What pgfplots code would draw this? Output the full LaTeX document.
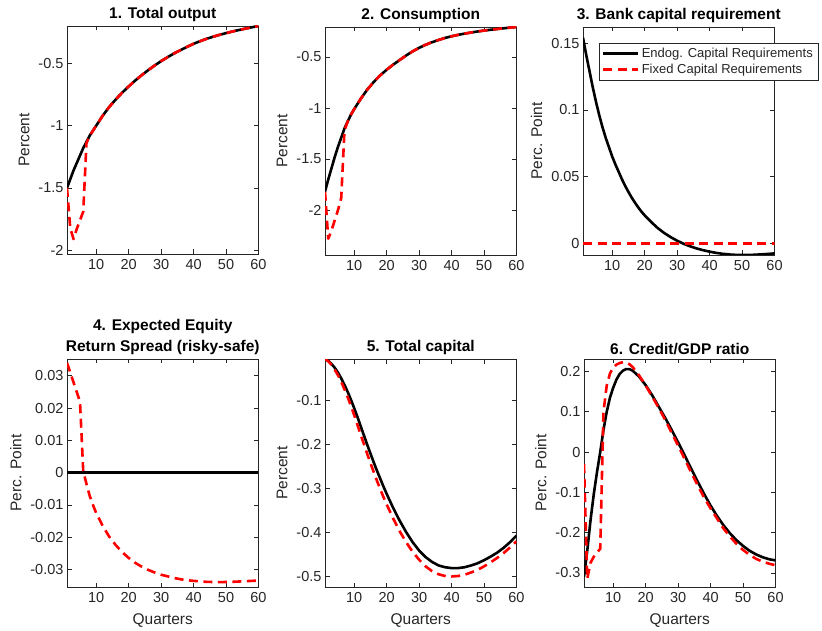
\documentclass[border=0pt]{standalone}
\usepackage{pgfplots}
\pgfplotsset{compat=1.18}
\usepackage{fontspec}
\setmainfont{Liberation Sans}
\definecolor{axc}{rgb}{0.15,0.15,0.15}
\pgfplotsset{
  mystyle/.style={
    scale only axis, width=191.5pt, height=228pt, anchor=south west,
    xmin=1, xmax=60, xtick={10,20,30,40,50,60},
    tick pos=both, xticklabel pos=lower, yticklabel pos=left,
    axis line style={axc, line width=0.6pt},
    every tick/.style={axc, line width=0.6pt},
    tick align=inside, major tick length=4.5pt,
    ticklabel style={font=\fontsize{14.5}{16}\selectfont, text=axc},
    xticklabel style={yshift=-2pt},
    /pgf/number format/assume math mode=true,
    scaled y ticks=false,
    title style={font=\bfseries\fontsize{15.5}{21}\selectfont, align=center, yshift=-5pt},
    ylabel style={font=\fontsize{15.5}{17}\selectfont, text=axc, yshift=2pt},
    xlabel style={font=\fontsize{15.5}{17}\selectfont, text=axc, yshift=-4pt},
    every axis plot/.append style={line width=2.6pt, line join=round},
  },
  blk/.style={black, solid},
  rdd/.style={red, dash pattern=on 9pt off 5.5pt},
}
\begin{document}
\begin{tikzpicture}
\useasboundingbox (0,0) rectangle (822pt,630pt);
% Panel 1
\begin{axis}[mystyle, at={(67pt,376pt)}, title={1. Total output}, ylabel={Percent},
  ymin=-2.03, ymax=-0.2, ytick={-2,-1.5,-1,-0.5}, yticklabels={-2,-1.5,-1,-0.5}]
\addplot[blk] coordinates {(1,-1.5)(2,-1.43)(3,-1.36)(4,-1.3)(5,-1.24)(6,-1.18)(7,-1.13)(8,-1.08)(9,-1.04)(10,-1.0)(12,-0.92)(14,-0.85)(16,-0.79)(18,-0.735)(20,-0.685)(22,-0.638)(24,-0.595)(26,-0.555)(28,-0.517)(30,-0.482)(32,-0.45)(34,-0.42)(36,-0.393)(38,-0.367)(40,-0.343)(42,-0.322)(44,-0.303)(46,-0.286)(48,-0.271)(50,-0.257)(52,-0.244)(54,-0.232)(56,-0.221)(58,-0.21)(60,-0.2)};
\addplot[rdd] coordinates {(1,-1.5)(2,-1.82)(3,-1.91)(4,-1.83)(5,-1.76)(6,-1.69)(7,-1.14)(8,-1.08)(9,-1.04)(10,-1.0)(12,-0.92)(14,-0.85)(16,-0.79)(18,-0.735)(20,-0.685)(22,-0.638)(24,-0.595)(26,-0.555)(28,-0.517)(30,-0.482)(32,-0.45)(34,-0.42)(36,-0.393)(38,-0.367)(40,-0.343)(42,-0.322)(44,-0.303)(46,-0.286)(48,-0.271)(50,-0.257)(52,-0.244)(54,-0.232)(56,-0.221)(58,-0.21)(60,-0.2)};
\end{axis}
% Panel 2
\begin{axis}[mystyle, at={(325pt,375pt)}, title={2. Consumption}, ylabel={Percent},
  ymin=-2.44, ymax=-0.206, ytick={-2,-1.5,-1,-0.5}, yticklabels={-2,-1.5,-1,-0.5}]
\addplot[blk] coordinates {(1,-1.82)(2,-1.70)(3,-1.59)(4,-1.48)(5,-1.38)(6,-1.29)(7,-1.2)(8,-1.13)(9,-1.065)(10,-1.01)(12,-0.91)(14,-0.82)(16,-0.745)(18,-0.68)(20,-0.625)(22,-0.575)(24,-0.53)(26,-0.485)(28,-0.445)(30,-0.41)(32,-0.38)(34,-0.355)(36,-0.333)(38,-0.313)(40,-0.297)(42,-0.283)(44,-0.271)(46,-0.26)(48,-0.25)(50,-0.241)(52,-0.233)(54,-0.226)(56,-0.219)(58,-0.212)(60,-0.206)};
\addplot[rdd] coordinates {(1,-1.82)(2,-2.28)(3,-2.2)(4,-2.1)(5,-2.0)(6,-1.88)(7,-1.22)(8,-1.13)(9,-1.065)(10,-1.01)(12,-0.91)(14,-0.82)(16,-0.745)(18,-0.68)(20,-0.625)(22,-0.575)(24,-0.53)(26,-0.485)(28,-0.445)(30,-0.41)(32,-0.38)(34,-0.355)(36,-0.333)(38,-0.313)(40,-0.297)(42,-0.283)(44,-0.271)(46,-0.26)(48,-0.25)(50,-0.241)(52,-0.233)(54,-0.226)(56,-0.219)(58,-0.212)(60,-0.206)};
\end{axis}
% Panel 3
\begin{axis}[mystyle, at={(583pt,375pt)}, title={3. Bank capital requirement}, ylabel={Perc. Point},
  ymin=-0.0087, ymax=0.162, ytick={0,0.05,0.1,0.15}, yticklabels={0,0.05,0.1,0.15},
  legend style={at={(0.083,0.93)}, anchor=north west, draw=axc, line width=0.6pt, fill=white,
    font=\fontsize{13}{15}\selectfont, text=axc, inner xsep=3pt, inner ysep=3pt, row sep=1pt},
  legend cell align=left,
  legend image code/.code={\draw[#1] (0pt,0pt) -- (35pt,0pt);}]
\addplot[blk] coordinates {(1,0.154)(2,0.141)(3,0.129)(4,0.117)(5,0.106)(6,0.096)(7,0.087)(8,0.079)(9,0.072)(10,0.065)(11,0.059)(12,0.0535)(13,0.048)(14,0.043)(15,0.0385)(16,0.0343)(17,0.0305)(18,0.027)(19,0.0238)(20,0.021)(22,0.016)(24,0.0115)(26,0.0078)(28,0.0047)(30,0.002)(32,-0.0003)(34,-0.0022)(36,-0.0038)(38,-0.0051)(40,-0.0062)(42,-0.0071)(44,-0.0078)(46,-0.0083)(48,-0.0086)(50,-0.0087)(52,-0.0087)(54,-0.0085)(56,-0.0082)(58,-0.0079)(60,-0.0075)};
\addplot[rdd] coordinates {(1,0)(60,0)};
\legend{Endog. Capital Requirements, Fixed Capital Requirements}
\end{axis}
% Panel 4
\begin{axis}[mystyle, at={(67pt,43pt)}, title={4. Expected Equity\\Return Spread (risky-safe)}, ylabel={Perc. Point}, xlabel={Quarters},
  ymin=-0.0354, ymax=0.0352, ytick={-0.03,-0.02,-0.01,0,0.01,0.02,0.03}, yticklabels={-0.03,-0.02,-0.01,0,0.01,0.02,0.03}]
\addplot[blk] coordinates {(1,0)(60,0)};
\addplot[rdd] coordinates {(1,0.034)(2,0.031)(3,0.028)(4,0.025)(5,0.022)(6,0.0005)(7,-0.0035)(8,-0.0072)(9,-0.0100)(10,-0.0125)(12,-0.0165)(14,-0.0198)(16,-0.0224)(18,-0.0246)(20,-0.0264)(22,-0.0279)(24,-0.0291)(26,-0.0301)(28,-0.0309)(30,-0.0316)(32,-0.0321)(34,-0.0326)(36,-0.033)(38,-0.0333)(40,-0.0335)(44,-0.0338)(48,-0.0339)(52,-0.0338)(56,-0.0336)(60,-0.0334)};
\end{axis}
% Panel 5
\begin{axis}[mystyle, at={(325pt,43pt)}, title={5. Total capital}, ylabel={Percent}, xlabel={Quarters},
  ymin=-0.524, ymax=-0.005, ytick={-0.5,-0.4,-0.3,-0.2,-0.1}, yticklabels={-0.5,-0.4,-0.3,-0.2,-0.1}]
\addplot[blk] coordinates {(1,-0.005)(2,-0.009)(3,-0.016)(4,-0.025)(5,-0.036)(6,-0.049)(7,-0.064)(8,-0.080)(9,-0.098)(10,-0.117)(11,-0.137)(12,-0.158)(13,-0.179)(14,-0.200)(15,-0.220)(16,-0.240)(17,-0.259)(18,-0.277)(19,-0.295)(20,-0.312)(22,-0.344)(24,-0.373)(26,-0.399)(28,-0.422)(30,-0.441)(32,-0.456)(34,-0.467)(36,-0.475)(38,-0.479)(40,-0.481)(42,-0.481)(44,-0.479)(46,-0.475)(48,-0.47)(50,-0.463)(52,-0.455)(54,-0.446)(56,-0.435)(58,-0.422)(60,-0.407)};
\addplot[rdd] coordinates {(1,-0.005)(2,-0.010)(3,-0.018)(4,-0.029)(5,-0.042)(6,-0.057)(7,-0.074)(8,-0.092)(9,-0.112)(10,-0.133)(11,-0.155)(12,-0.177)(13,-0.199)(14,-0.221)(15,-0.242)(16,-0.262)(17,-0.282)(18,-0.301)(19,-0.319)(20,-0.336)(22,-0.368)(24,-0.397)(26,-0.422)(28,-0.444)(30,-0.462)(32,-0.477)(34,-0.488)(36,-0.495)(38,-0.499)(40,-0.5)(42,-0.499)(44,-0.496)(46,-0.491)(48,-0.485)(50,-0.477)(52,-0.468)(54,-0.458)(56,-0.447)(58,-0.434)(60,-0.42)};
\end{axis}
% Panel 6
\begin{axis}[mystyle, at={(584pt,43pt)}, title={6. Credit/GDP ratio}, ylabel={Perc. Point}, xlabel={Quarters},
  ymin=-0.335, ymax=0.231, ytick={-0.3,-0.2,-0.1,0,0.1,0.2}, yticklabels={-0.3,-0.2,-0.1,0,0.1,0.2}]
\addplot[blk] coordinates {(1,-0.31)(2,-0.245)(3,-0.17)(4,-0.105)(5,-0.05)(6,0.0)(7,0.055)(8,0.1)(9,0.135)(10,0.16)(11,0.18)(12,0.194)(13,0.202)(14,0.206)(15,0.206)(16,0.202)(18,0.187)(20,0.166)(22,0.141)(24,0.113)(26,0.085)(28,0.055)(30,0.024)(32,-0.008)(34,-0.041)(36,-0.073)(38,-0.104)(40,-0.133)(42,-0.159)(44,-0.182)(46,-0.202)(48,-0.219)(50,-0.233)(52,-0.245)(54,-0.254)(56,-0.261)(58,-0.266)(60,-0.269)};
\addplot[rdd] coordinates {(1,-0.03)(2,-0.315)(3,-0.275)(4,-0.26)(5,-0.25)(6,-0.24)(7,0.1)(8,0.165)(9,0.195)(10,0.21)(11,0.217)(12,0.221)(13,0.223)(14,0.222)(15,0.218)(16,0.211)(18,0.19)(20,0.165)(22,0.138)(24,0.11)(26,0.08)(28,0.048)(30,0.016)(32,-0.017)(34,-0.05)(36,-0.082)(38,-0.113)(40,-0.14)(42,-0.165)(44,-0.19)(46,-0.21)(48,-0.228)(50,-0.243)(52,-0.255)(54,-0.265)(56,-0.272)(58,-0.277)(60,-0.281)};
\end{axis}
\end{tikzpicture}
\end{document}
